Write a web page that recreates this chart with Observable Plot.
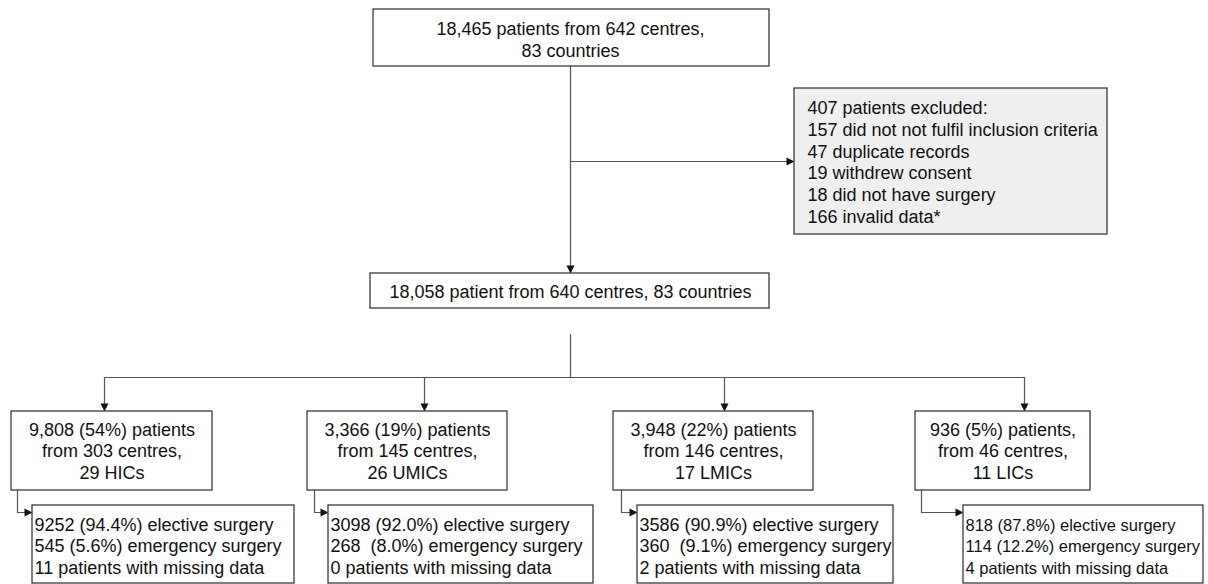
<!DOCTYPE html>
<html>
<head>
<meta charset="utf-8">
<script src="https://cdn.jsdelivr.net/npm/d3@7"></script>
<script src="https://cdn.jsdelivr.net/npm/@observablehq/plot@0.6"></script>
<style>
  html, body { margin: 0; padding: 0; background: #fff; }
  #chart svg { display: block; }
</style>
</head>
<body>
<div id="chart"></div>
<script>
// ---- Data (text content of the flow diagram) ----
const topLines = ["18,465 patients from 642 centres,", "83 countries"];
const excludedLines = [
  "407 patients excluded:",
  "157 did not not fulfil inclusion criteria",
  "47 duplicate records",
  "19 withdrew consent",
  "18 did not have surgery",
  "166 invalid data*"
];
const includedLine = "18,058 patient from 640 centres, 83 countries";
const groupLines = [
  ["9,808 (54%) patients", "from 303 centres,", "29 HICs"],
  ["3,366 (19%) patients", "from 145 centres,", "26 UMICs"],
  ["3,948 (22%) patients", "from 146 centres,", "17 LMICs"],
  ["936 (5%) patients,", "from 46 centres,", "11 LICs"]
];
const surgeryLines = [
  ["9252 (94.4%) elective surgery", "545 (5.6%) emergency surgery", "11 patients with missing data"],
  ["3098 (92.0%) elective surgery", "268  (8.0%) emergency surgery", "0 patients with missing data"],
  ["3586 (90.9%) elective surgery", "360  (9.1%) emergency surgery", "2 patients with missing data"],
  ["818 (87.8%) elective surgery", "114 (12.2%) emergency surgery", "4 patients with missing data"]
];

// ---- Layout (pixel space of the diagram) ----
const W = 1208, H = 584;
const topBox = {x1: 373, x2: 769, y1: 9, y2: 66};
const exclBox = {x1: 794, x2: 1107, y1: 88, y2: 234};
const mainBox = {x1: 370, x2: 769, y1: 273, y2: 308};
const groupBoxes = [
  {x1: 11, x2: 212}, {x1: 307, x2: 507}, {x1: 613, x2: 813}, {x1: 915, x2: 1090}
].map(b => ({...b, y1: 411, y2: 490}));
const groupArrowX = [104, 424, 724, 1024];
const subBoxes = [
  {x1: 32, x2: 294}, {x1: 328, x2: 593}, {x1: 637, x2: 893}, {x1: 963, x2: 1203}
].map(b => ({...b, y1: 505, y2: 583}));
const subFont = [18, 18, 18, 16.5];
const subConnX = [17, 314, 621, 921];
const cx = 570, branchY = 161, splitY = 377, subConnY = 512;

const boxes = [
  {...topBox, fill: "#ffffff"},
  {...exclBox, fill: "#efefef"},
  {...mainBox, fill: "#ffffff"},
  ...groupBoxes.map(b => ({...b, fill: "#ffffff"})),
  ...subBoxes.map(b => ({...b, fill: "#ffffff"}))
];

// connector polylines
const paths = [];
function addPath(id, pts) { pts.forEach(([x, y]) => paths.push({id, x, y})); }
addPath("main", [[cx, topBox.y2], [cx, mainBox.y1]]);
addPath("branch", [[cx, branchY], [exclBox.x1, branchY]]);
addPath("split", [[cx, 334], [cx, splitY]]);
addPath("hbar", [[groupArrowX[0], splitY], [groupArrowX[3], splitY]]);
groupArrowX.forEach((x, i) => addPath("g" + i, [[x, splitY], [x, groupBoxes[i].y1]]));
subConnX.forEach((x, i) => addPath("s" + i, [[x, groupBoxes[i].y2], [x, subConnY], [subBoxes[i].x1, subConnY]]));

// arrowheads (tip + direction)
const tips = [
  {x: cx, y: mainBox.y1, dir: "down"},
  {x: exclBox.x1, y: branchY, dir: "right"},
  ...groupArrowX.map((x, i) => ({x, y: groupBoxes[i].y1, dir: "down"})),
  ...subConnX.map((x, i) => ({x: subBoxes[i].x1, y: subConnY, dir: "right"}))
];
const heads = [];
tips.forEach((t, i) => {
  const L = 8, h = 4;
  const pts = t.dir === "down"
    ? [[t.x, t.y], [t.x - h, t.y - L], [t.x + h, t.y - L]]
    : [[t.x, t.y], [t.x - L, t.y - h], [t.x - L, t.y + h]];
  pts.forEach(([x, y]) => heads.push({id: i, x, y}));
});

// text entries
const texts = [
  {x: cx, y: (topBox.y1 + topBox.y2) / 2 + 1, text: topLines.join("\n"), anchor: "middle", fs: 18},
  {x: exclBox.x1 + 13, y: (exclBox.y1 + exclBox.y2) / 2, text: excludedLines.join("\n"), anchor: "start", fs: 18},
  {x: cx, y: (mainBox.y1 + mainBox.y2) / 2, text: includedLine, anchor: "middle", fs: 18},
  ...groupLines.map((ls, i) => ({x: (groupBoxes[i].x1 + groupBoxes[i].x2) / 2, y: 450, text: ls.join("\n"), anchor: "middle", fs: 18})),
  ...surgeryLines.map((ls, i) => ({x: subBoxes[i].x1 + 2, y: 545, text: ls.join("\n"), anchor: "start", fs: subFont[i]}))
];

const font = "'Liberation Sans', Arial, Helvetica, sans-serif";

const chart = Plot.plot({
  width: W, height: H,
  margin: 0,
  x: {domain: [0, W], range: [0, W], axis: null},
  y: {domain: [0, H], range: [0, H], axis: null},
  style: {fontFamily: font, background: "#fff"},
  marks: [
    Plot.line(paths, {x: "x", y: "y", z: "id", stroke: "#555", strokeWidth: 1.2, curve: "linear"}),
    Plot.line(heads, {x: "x", y: "y", z: "id", fill: "#111", stroke: "none"}),
    Plot.rect(boxes, {x1: "x1", x2: "x2", y1: "y1", y2: "y2", fill: "fill", stroke: "#3a3a3a", strokeWidth: 1.3}),
    ...[["middle", 18], ["start", 18], ["start", 16.5]].map(([a, fs]) =>
      Plot.text(texts.filter(d => d.anchor === a && d.fs === fs), {
        x: "x", y: "y", text: "text", textAnchor: a,
        fontSize: fs, fill: "#111", lineHeight: 21.8 / fs
      })
    )
  ]
});
document.getElementById("chart").appendChild(chart);
</script>
</body>
</html>
